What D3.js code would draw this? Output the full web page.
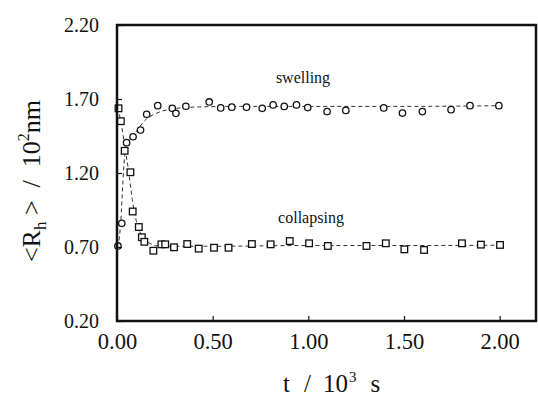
<!DOCTYPE html>
<html>
<head>
<meta charset="utf-8">
<script src="https://cdn.jsdelivr.net/npm/d3@7"></script>
<style>
  html, body { margin: 0; padding: 0; background: #fff; }
  svg { display: block; }
</style>
</head>
<body>
<svg id="chart" width="538" height="397"></svg>
<script>
// Hydrodynamic radius <Rh> (in 10^2 nm) versus time (in 10^3 s)

// swelling run (circles)
const swellT = [0.005, 0.025, 0.05, 0.084, 0.123, 0.155, 0.213, 0.289, 0.308, 0.36, 0.482, 0.542, 0.60, 0.677, 0.759, 0.816, 0.874, 0.938, 0.997, 1.098, 1.196, 1.394, 1.492, 1.596, 1.746, 1.845, 1.996];
const swellR = [0.707, 0.86, 1.405, 1.445, 1.49, 1.597, 1.655, 1.637, 1.603, 1.651, 1.68, 1.64, 1.645, 1.645, 1.637, 1.66, 1.65, 1.66, 1.642, 1.615, 1.623, 1.64, 1.605, 1.615, 1.628, 1.655, 1.655];

// collapsing run (squares)
const collT = [0.008, 0.02, 0.04, 0.07, 0.082, 0.114, 0.13, 0.143, 0.19, 0.232, 0.252, 0.298, 0.367, 0.427, 0.507, 0.583, 0.705, 0.803, 0.903, 1.004, 1.102, 1.304, 1.405, 1.502, 1.605, 1.803, 1.902, 2.002];
const collR = [1.637, 1.55, 1.35, 1.205, 0.94, 0.835, 0.766, 0.735, 0.675, 0.718, 0.718, 0.698, 0.72, 0.689, 0.695, 0.695, 0.72, 0.718, 0.74, 0.725, 0.707, 0.707, 0.725, 0.684, 0.68, 0.725, 0.716, 0.714];

// fitted curves (dashed)
const swellFitT = [0.0, 0.01, 0.02, 0.03, 0.04, 0.05, 0.07, 0.10, 0.15, 0.20, 0.30, 0.40, 0.60, 1.00, 1.50, 2.00];
const swellFitR = [0.70, 0.74, 0.88, 1.12, 1.32, 1.40, 1.43, 1.48, 1.56, 1.60, 1.635, 1.645, 1.65, 1.65, 1.65, 1.655];
const collFitT = [0.0, 0.02, 0.04, 0.06, 0.08, 0.10, 0.12, 0.14, 0.17, 0.20, 0.25, 0.30, 0.50, 1.00, 1.50, 2.00];
const collFitR = [1.64, 1.55, 1.38, 1.22, 1.02, 0.88, 0.80, 0.755, 0.725, 0.71, 0.705, 0.705, 0.705, 0.71, 0.71, 0.712];

// axis ticks
const xTicks = [0.00, 0.50, 1.00, 1.50, 2.00];
const yTicks = [0.20, 0.70, 1.20, 1.70, 2.20];

const serif = '"Liberation Serif", "Times New Roman", Times, "DejaVu Serif", "Noto Serif", serif';
const svg = d3.select("#chart");
const plotL = 117, plotR = 536, plotT = 25, plotB = 321;

const x = d3.scaleLinear().domain([0, 2.19]).range([plotL, plotR]);
const y = d3.scaleLinear().domain([0.2, 2.2]).range([plotB, plotT]);

// fitted dashed curves
const line = d3.line().x(d => x(d[0])).y(d => y(d[1])).curve(d3.curveMonotoneX);
const fits = [d3.zip(swellFitT, swellFitR), d3.zip(collFitT, collFitR)];
svg.selectAll("path.fit").data(fits).enter().append("path")
  .attr("class", "fit")
  .attr("d", line)
  .attr("fill", "none")
  .attr("stroke", "#333")
  .attr("stroke-width", 1)
  .attr("stroke-dasharray", "4,3");

// markers
svg.selectAll("circle.sw").data(d3.zip(swellT, swellR)).enter().append("circle")
  .attr("class", "sw")
  .attr("cx", d => x(d[0])).attr("cy", d => y(d[1]))
  .attr("r", 3.2)
  .attr("fill", "#fff").attr("stroke", "#111").attr("stroke-width", 1.3);

svg.selectAll("rect.co").data(d3.zip(collT, collR)).enter().append("rect")
  .attr("class", "co")
  .attr("x", d => x(d[0]) - 3.3).attr("y", d => y(d[1]) - 3.3)
  .attr("width", 6.6).attr("height", 6.6)
  .attr("fill", "#fff").attr("stroke", "#111").attr("stroke-width", 1.3);

// axes with inward ticks
const xAxis = d3.axisBottom(x).tickValues(xTicks).tickSizeInner(-5).tickSizeOuter(0).tickPadding(12).tickFormat(d3.format(".2f"));
const gx = svg.append("g").attr("transform", `translate(0,${plotB})`).call(xAxis);
gx.attr("font-family", serif);
gx.select(".domain").remove();
gx.selectAll("line").attr("stroke", "#111").attr("stroke-width", 1.2);
gx.selectAll("text").attr("font-size", 22.5).attr("fill", "#111");

const yAxis = d3.axisLeft(y).tickValues(yTicks).tickSizeInner(-5).tickSizeOuter(0).tickPadding(18).tickFormat(d3.format(".2f"));
const gy = svg.append("g").attr("transform", `translate(${plotL},0)`).call(yAxis);
gy.attr("font-family", serif);
gy.select(".domain").remove();
gy.selectAll("line").attr("stroke", "#111").attr("stroke-width", 1.2);
gy.selectAll("text").attr("font-size", 20).attr("fill", "#111");

// frame
svg.append("rect")
  .attr("x", plotL).attr("y", plotT)
  .attr("width", plotR - plotL).attr("height", plotB - plotT)
  .attr("fill", "none").attr("stroke", "#111").attr("stroke-width", 2.5);

// series labels
svg.append("text").attr("x", 303).attr("y", 83).attr("text-anchor", "middle")
  .attr("font-family", serif).attr("font-size", 16).attr("fill", "#111").text("swelling");
svg.append("text").attr("x", 311).attr("y", 223).attr("text-anchor", "middle")
  .attr("font-family", serif).attr("font-size", 16).attr("fill", "#111").text("collapsing");

// axis titles
const xt = svg.append("text").attr("x", 283).attr("y", 392)
  .attr("font-family", serif).attr("font-size", 25).attr("fill", "#111");
xt.append("tspan").text("t");
xt.append("tspan").attr("dx", 14).text("/");
xt.append("tspan").attr("dx", 12).text("10");
xt.append("tspan").attr("dy", -10).attr("dx", 1).attr("font-size", 15).text("3");
xt.append("tspan").attr("dy", 10).attr("dx", 14).text("s");

const yt = svg.append("text")
  .attr("transform", "translate(40,181) rotate(-90)")
  .attr("font-family", serif).attr("fill", "#111")
  .attr("text-anchor", "middle").attr("font-size", 26).attr("xml:space", "preserve");
yt.append("tspan").text("<R");
yt.append("tspan").attr("dy", 6).attr("font-size", 17).text("h");
yt.append("tspan").attr("dy", -6).text(" >  /  10");
yt.append("tspan").attr("dy", -11).attr("font-size", 16).text("2");
yt.append("tspan").attr("dy", 11).text("nm");
</script>
</body>
</html>
